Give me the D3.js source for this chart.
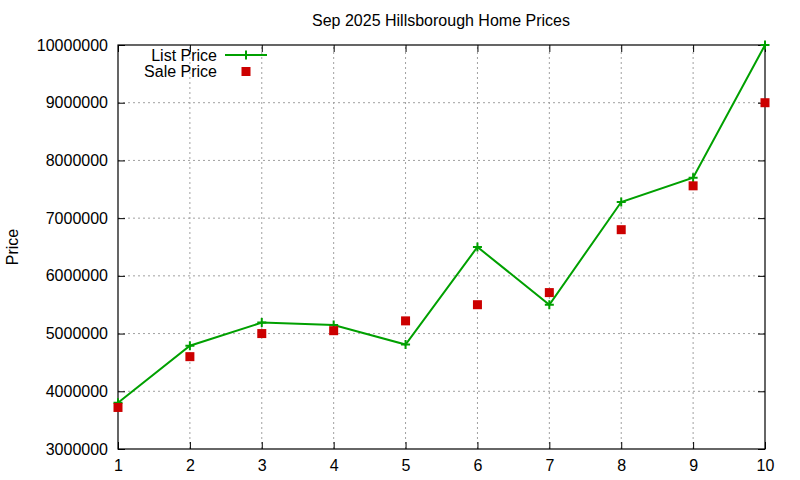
<!DOCTYPE html>
<html><head><meta charset="utf-8">
<script src="https://cdn.jsdelivr.net/npm/d3@7"></script>
<style>body{margin:0;background:#fff}text{font-family:"Liberation Sans",Arial,sans-serif;fill:#000}</style>
</head><body><svg id="c" width="800" height="480"></svg>
<script>
const xs = [1,2,3,4,5,6,7,8,9,10];
const listPrice = [3800000,4790000,5190000,5150000,4810000,6500000,5500000,7280000,7700000,10000000];
const salePrice = [3720000,4600000,5000000,5050000,5220000,5500000,5710000,6800000,7560000,9000000];
const yTicks = [3000000,4000000,5000000,6000000,7000000,8000000,9000000,10000000];

const svg = d3.select("#c");
const L=118,R=765,T=45,B=449;
const x = d3.scaleLinear().domain([1,10]).range([L,R]);
const y = d3.scaleLinear().domain([3000000,10000000]).range([B,T]);

// grid
const g = svg.append("g");
g.selectAll(".gx").data(xs.slice(1,-1)).join("line")
 .attr("x1",d=>x(d)).attr("x2",d=>x(d)).attr("y1",B).attr("y2",T)
 .attr("stroke","#a0a0a0").attr("stroke-dasharray","2,3").attr("stroke-width",1);
g.selectAll(".gy").data(yTicks.slice(1,-1)).join("line")
 .attr("x1",L).attr("x2",R).attr("y1",d=>y(d)).attr("y2",d=>y(d))
 .attr("stroke","#a0a0a0").attr("stroke-dasharray","2,3").attr("stroke-width",1);

// axes
const ax = svg.append("g").attr("transform",`translate(0,${B})`)
 .call(d3.axisBottom(x).tickValues(xs).tickSize(-7).tickPadding(11).tickFormat(d3.format("d")));
const ay = svg.append("g").attr("transform",`translate(${L},0)`)
 .call(d3.axisLeft(y).tickValues(yTicks).tickSize(-7).tickPadding(10).tickFormat(d3.format("d")));
const ayr = svg.append("g").attr("transform",`translate(${R},0)`)
 .call(d3.axisRight(y).tickValues(yTicks).tickSize(-7).tickFormat(""));
const axt = svg.append("g").attr("transform",`translate(0,${T})`)
 .call(d3.axisTop(x).tickValues(xs).tickSize(-7).tickFormat(""));
[ax,ay,ayr,axt].forEach(a=>{a.select(".domain").remove();a.selectAll("line").attr("stroke","#000");
 a.selectAll("text").style("font-size","16px").style("font-family","Liberation Sans, Arial, sans-serif").attr("fill","#000");});
svg.append("rect").attr("x",L).attr("y",T).attr("width",R-L).attr("height",B-T)
 .attr("fill","none").attr("stroke","#000").attr("stroke-width",1.2);

// list line
const green="#00a000", red="#cc0000";
svg.append("path").datum(xs.map((d,i)=>[d,listPrice[i]]))
 .attr("d",d3.line().x(d=>x(d[0])).y(d=>y(d[1])))
 .attr("fill","none").attr("stroke",green).attr("stroke-width",2);
const plus = (sel)=>sel.append("path").attr("d","M-4.5,0H4.5M0,-4.5V4.5").attr("stroke",green).attr("stroke-width",2);
svg.selectAll(".lp").data(xs.map((d,i)=>[d,listPrice[i]])).join("g")
 .attr("transform",d=>`translate(${x(d[0])},${y(d[1])})`).call(plus);
svg.selectAll(".sp").data(xs.map((d,i)=>[d,salePrice[i]])).join("rect")
 .attr("x",d=>x(d[0])-4.5).attr("y",d=>y(d[1])-4.5).attr("width",9).attr("height",9).attr("fill",red);

// legend
svg.append("text").attr("x",217).attr("y",61).attr("text-anchor","end").style("font-size","16px").text("List Price");
svg.append("line").attr("x1",225).attr("x2",267).attr("y1",55).attr("y2",55).attr("stroke",green).attr("stroke-width",2);
svg.append("g").attr("transform","translate(246,55)").call(plus);
svg.append("text").attr("x",217).attr("y",77).attr("text-anchor","end").style("font-size","16px").text("Sale Price");
svg.append("rect").attr("x",241.5).attr("y",67).attr("width",9).attr("height",9).attr("fill",red);

// title & label
svg.append("text").attr("x",441).attr("y",26).attr("text-anchor","middle").style("font-size","16px").text("Sep 2025 Hillsborough Home Prices");
svg.append("text").attr("transform","translate(18,247) rotate(-90)").attr("text-anchor","middle").style("font-size","16px").text("Price");
</script></body></html>
